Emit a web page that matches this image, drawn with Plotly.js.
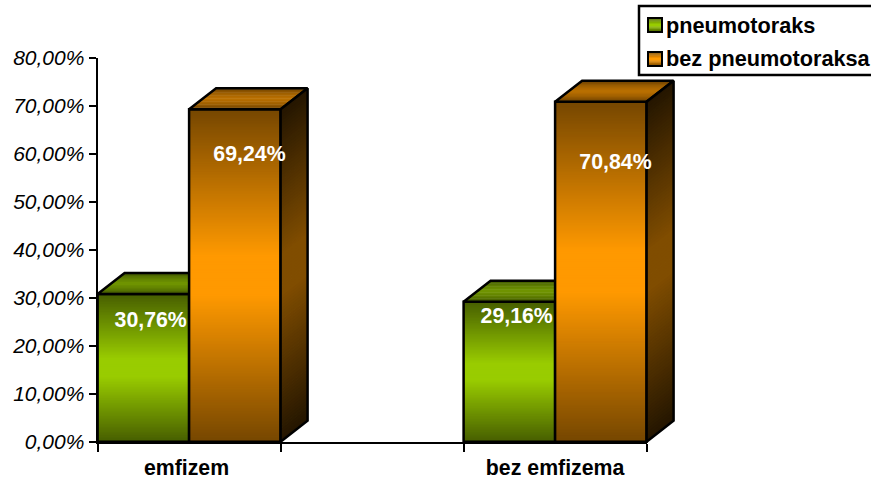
<!DOCTYPE html>
<html>
<head>
<meta charset="utf-8">
<script src="https://cdn.plot.ly/plotly-3.0.1.min.js"></script>
<style>html,body{margin:0;padding:0;background:#fff;overflow:hidden}</style>
</head>
<body>
<div id="chart" style="width:871px;height:477px"></div>
<script>
// ---- data ----
var categories = ["emfizem", "bez emfizema"];
var seriesNames = ["pneumotoraks", "bez pneumotoraksa"];
var pneumotoraks = [30.76, 29.16];
var bezPneumotoraksa = [69.24, 70.84];
var yTickVals = [0, 10, 20, 30, 40, 50, 60, 70, 80];
var yTickText = ["0,00%", "10,00%", "20,00%", "30,00%", "40,00%", "50,00%", "60,00%", "70,00%", "80,00%"];
var labelText = ["30,76%", "69,24%", "29,16%", "70,84%"];

// ---- placement of categories and labels (axis units) ----
var catCenters = [0.5, 2.5];
var catLabelPos = [0.486, 2.5];
var slotTicks = [0, 1, 2, 3];
var labelX = [0.29, 0.83, 2.29, 2.83];
var labelY = [25.0, 59.6, 25.8, 57.9];

// ---- style ----
var W = 871, H = 477;
var GREEN = [153, 204, 0], ORANGE = [255, 153, 0];
var FONT = '"Liberation Sans", Arial, sans-serif';
var FS = 21.3;
var barW = 0.5, depthX = 27 / 183, depthY = 21 / 4.8;
var stopT = [0, 0.12, 1];
var frontK = [1, 1, 0.46];
var sideK = [0.5, 0.5, 0.14];
var topStopT = [0, 0.5, 1];
var topK = [0.74, 0.62, 0.42];
var originX = 97.6, originY = 441.7;

function interp(ts, ks, t) {
  for (var i = 1; i < ts.length; i++) {
    if (t <= ts[i]) return ks[i - 1] + (ks[i] - ks[i - 1]) * (t - ts[i - 1]) / (ts[i] - ts[i - 1]);
  }
  return ks[ks.length - 1];
}
function shade(c, k) {
  return 'rgb(' + Math.round(c[0] * k) + ',' + Math.round(c[1] * k) + ',' + Math.round(c[2] * k) + ')';
}
// f runs 0..1 along a face; t is the distance from the middle of the face
function tOf(f) { return Math.abs(f - 0.5) * 2; }

// an empty trace keeps the visible axes on the page
var traces = [{
  type: 'scatter', mode: 'markers', x: [null], y: [null], xaxis: 'x', yaxis: 'y',
  hoverinfo: 'skip', showlegend: false
}];

function poly(xs, ys, color, ax, ay) {
  traces.push({
    type: 'scatter', mode: 'lines', x: xs, y: ys, fill: 'toself', fillcolor: color,
    line: {width: 0, color: color}, xaxis: ax, yaxis: ay, hoverinfo: 'skip', showlegend: false
  });
}
function outline(xs, ys, ax, ay) {
  traces.push({
    type: 'scatter', mode: 'lines', x: xs, y: ys,
    line: {width: 2.5, color: '#000', shape: 'linear'}, xaxis: ax, yaxis: ay, hoverinfo: 'skip', showlegend: false
  });
}

function drawSeries(name, values, centers, color, ax, ay, withSide) {
  // gradient of the front faces: every slice runs on under the next one, so no gap shows
  var gx = [], gb = [], gh = [], gc = [];
  values.forEach(function (v, i) {
    var N = Math.round(v * 3);
    for (var s = 0; s < N; s++) {
      var f0 = s / N, f1 = Math.min(1, (s + 2) / N);
      gx.push(centers[i]); gb.push(v * f0);
      gh.push(v * (f1 - f0)); gc.push(shade(color, interp(stopT, frontK, tOf((s + 0.5) / N))));
    }
  });
  traces.push({
    type: 'bar', x: gx, y: gh, base: gb, width: barW, xaxis: ax, yaxis: ay,
    marker: {color: gc, line: {width: 0}}, hoverinfo: 'skip', showlegend: false
  });
  // the values themselves, outlined
  traces.push({
    type: 'bar', name: name, x: centers, y: values, width: barW, xaxis: ax, yaxis: ay,
    marker: {color: 'rgba(0,0,0,0)', line: {width: 2.5, color: '#000'}}, hoverinfo: 'skip', showlegend: false
  });
  values.forEach(function (v, i) {
    var xl = centers[i] - barW / 2, xr = centers[i] + barW / 2;
    var M = 14, s, f0, f1, col;
    // top face
    for (s = 0; s < M; s++) {
      f0 = s / M; f1 = Math.min(1, (s + 1.4) / M);
      col = shade(color, interp(topStopT, topK, tOf((s + 0.5) / M)));
      poly([xl + depthX * f0, xr + depthX * f0, xr + depthX * f1, xl + depthX * f1],
           [v + depthY * f0, v + depthY * f0, v + depthY * f1, v + depthY * f1], col, ax, ay);
    }
    outline([xl, xl + depthX, xr + depthX, xr, xl], [v, v + depthY, v + depthY, v, v], ax, ay);
    // side face
    if (withSide) {
      var K = 110;
      for (s = 0; s < K; s++) {
        f0 = s / K; f1 = Math.min(1, (s + 1.4) / K);
        col = shade(color, interp(stopT, sideK, tOf((s + 0.5) / K)));
        poly([xr, xr + depthX, xr + depthX, xr],
             [v * f0, v * f0 + depthY, v * f1 + depthY, v * f1], col, ax, ay);
      }
      outline([xr, xr + depthX, xr + depthX, xr, xr], [0, depthY, v + depthY, v, 0], ax, ay);
    }
  });
}

var greenCenters = catCenters.map(function (c) { return c - barW / 2; });
var orangeCenters = catCenters.map(function (c) { return c + barW / 2; });
drawSeries(seriesNames[0], pneumotoraks, greenCenters, GREEN, 'x2', 'y2', false);
drawSeries(seriesNames[1], bezPneumotoraksa, orangeCenters, ORANGE, 'x3', 'y3', true);

traces.push({
  type: 'scatter', mode: 'text', x: labelX, y: labelY, text: labelText, xaxis: 'x3', yaxis: 'y3',
  textposition: 'middle center', textfont: {family: FONT, size: FS, color: '#fff', weight: 700},
  hoverinfo: 'skip', showlegend: false, cliponaxis: false
});

function px(x) { return x / W; }
function py(y) { return 1 - y / H; }

// legend
var shapes = [{
  type: 'rect', xref: 'paper', yref: 'paper', x0: px(639), x1: px(880), y0: py(6), y1: py(75),
  line: {color: '#000', width: 2.5}, fillcolor: '#fff', layer: 'above'
}];
var annotations = [];
function legendRow(name, color, yTop, yMid) {
  var n = 12, h = 14;
  for (var s = 0; s < n; s++) {
    shapes.push({
      type: 'rect', xref: 'paper', yref: 'paper', x0: px(648), x1: px(662),
      y0: py(yTop + h * s / n), y1: py(yTop + h * (s + 1.3) / n),
      line: {width: 0}, fillcolor: shade(color, interp(stopT, frontK, tOf((s + 0.5) / n))), layer: 'above'
    });
  }
  shapes.push({
    type: 'rect', xref: 'paper', yref: 'paper', x0: px(648), x1: px(662), y0: py(yTop), y1: py(yTop + h),
    line: {color: '#000', width: 2}, fillcolor: 'rgba(0,0,0,0)', layer: 'above'
  });
  annotations.push({
    xref: 'paper', yref: 'paper', x: px(664), y: py(yMid), xanchor: 'left', yanchor: 'middle',
    text: name, showarrow: false, font: {family: FONT, size: 21.7, color: '#000', weight: 700}
  });
}
legendRow(seriesNames[0], GREEN, 18, 25);
legendRow(seriesNames[1], ORANGE, 52, 58);

var hidden = function (range, anchor) {
  return {domain: [0, 1], range: range, visible: false, fixedrange: true, anchor: anchor};
};
var xFull = [-originX / 183, (W - originX) / 183], yFull = [-(H - originY) / 4.8, originY / 4.8];

var layout = {
  width: W, height: H,
  margin: {l: 0, r: 0, t: 0, b: 0, pad: 0},
  paper_bgcolor: '#fff', plot_bgcolor: 'rgba(0,0,0,0)',
  barmode: 'overlay', showlegend: false,
  xaxis: {
    domain: [originX / W, (originX + 549) / W], range: [0, 3], anchor: 'y', fixedrange: true,
    showgrid: false, zeroline: false, showline: true, linecolor: '#000', linewidth: 2,
    tickmode: 'array', tickvals: catLabelPos, ticktext: categories, ticks: '',
    ticklabelstandoff: 6,
    tickfont: {family: FONT, size: FS, color: '#000', weight: 700},
    minor: {tickmode: 'array', tickvals: slotTicks, ticks: 'outside', ticklen: 8, tickwidth: 2, tickcolor: '#000', showgrid: false}
  },
  yaxis: {
    domain: [(H - originY) / H, (H - originY + 384) / H], range: [0, 80], anchor: 'x', fixedrange: true,
    showgrid: false, zeroline: false, showline: true, linecolor: '#000', linewidth: 2,
    tickmode: 'array', tickvals: yTickVals, ticktext: yTickText,
    ticks: 'outside', ticklen: 7, tickwidth: 2, tickcolor: '#000',
    ticklabelstandoff: 0,
    tickfont: {family: FONT, size: 21, color: '#000', style: 'italic'}
  },
  xaxis2: hidden(xFull, 'y2'), yaxis2: hidden(yFull, 'x2'),
  xaxis3: hidden(xFull, 'y3'), yaxis3: hidden(yFull, 'x3'),
  shapes: shapes, annotations: annotations
};
Plotly.newPlot('chart', traces, layout, {displayModeBar: false, staticPlot: true});
</script>
</body>
</html>
